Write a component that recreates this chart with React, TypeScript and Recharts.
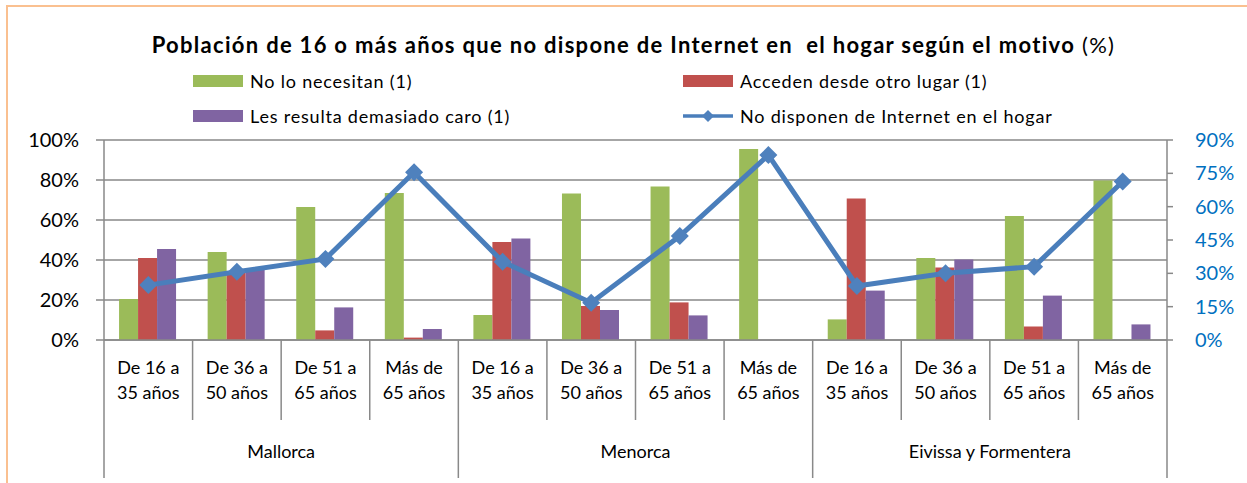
import React from 'react';
import { ComposedChart, Bar, Line, XAxis, YAxis, CartesianGrid } from 'recharts';

const regions = ['Mallorca', 'Menorca', 'Eivissa y Formentera'];
const ageLines = [
  ['De 16 a', '35 años'],
  ['De 36 a', '50 años'],
  ['De 51 a', '65 años'],
  ['Más de', '65 años'],
];

// % (eje izquierdo)
const noLoNecesitan = [20.5, 44, 66.5, 73.5, 12.5, 73.3, 76.7, 95.5, 10.3, 41, 62, 79.7];
const accedenOtroLugar = [41, 33.5, 4.8, 1.2, 49, 17, 18.8, 0, 70.8, 36.3, 6.7, 0];
const demasiadoCaro = [45.5, 35.5, 16.3, 5.5, 50.8, 15, 12.3, 0, 24.7, 40.3, 22.2, 7.8];
// % (eje derecho)
const noDisponen = [24.7, 30.7, 36.5, 75.5, 35.2, 16.8, 46.8, 83.2, 24.3, 30, 33, 71.3];

const leftTicks = [0, 20, 40, 60, 80, 100];
const rightTicks = [0, 15, 30, 45, 60, 75, 90];

const GREEN = '#9BBB59';
const RED = '#C0504D';
const PURPLE = '#8064A2';
const BLUE = '#4A7EBB';
const GRID = '#898989';
const FONT = 'Lato, "Liberation Sans", sans-serif';

const data = noLoNecesitan.map((v, i) => ({
  key: `${regions[Math.floor(i / 4)]}-${i % 4}`,
  region: regions[Math.floor(i / 4)],
  age: ageLines[i % 4],
  necesitan: v,
  otro: accedenOtroLugar[i],
  caro: demasiadoCaro[i],
  total: noDisponen[i],
}));

const Diamond = (props: any) => {
  const { cx, cy } = props;
  if (cx == null || cy == null) return null;
  const r = 9;
  return (
    <path
      d={`M${cx},${cy - r} L${cx + r},${cy} L${cx},${cy + r} L${cx - r},${cy} Z`}
      fill="#4F81BD"
    />
  );
};

const AgeTick = (props: any) => {
  const { x, y, payload, width, visibleTicksCount } = props;
  const i = payload.index ?? props.index;
  const half = width / visibleTicksCount / 2;
  const row = data[i];
  const last = i === data.length - 1;
  return (
    <g>
      <line x1={x - half} x2={x - half} y1={y} y2={i % 4 === 0 ? y + 138 : y + 80} stroke={GRID} strokeWidth={1.5} />
      {last && <line x1={x + half} x2={x + half} y1={y} y2={y + 138} stroke={GRID} strokeWidth={1.5} />}
      <text x={x} y={y + 34} textAnchor="middle" fontSize={18} fill="#000" fontFamily={FONT}>
        {row.age[0]}
      </text>
      <text x={x} y={y + 59} textAnchor="middle" fontSize={18} fill="#000" fontFamily={FONT}>
        {row.age[1]}
      </text>
      {i % 4 === 1 && (
        <text x={x + half} y={y + 118} textAnchor="middle" fontSize={18} fill="#000" fontFamily={FONT}>
          {row.region}
        </text>
      )}
    </g>
  );
};

const legendItems = [
  { label: 'No lo necesitan (1)', color: GREEN, type: 'bar', left: 193, top: 73 },
  { label: 'Acceden desde otro lugar (1)', color: RED, type: 'bar', left: 683, top: 73 },
  { label: 'Les resulta demasiado caro (1)', color: PURPLE, type: 'bar', left: 193, top: 108 },
  { label: 'No disponen de Internet en el hogar', color: BLUE, type: 'line', left: 683, top: 108 },
];

export default function App() {
  return (
    <div
      style={{
        position: 'absolute',
        left: 0,
        top: 0,
        width: 1247,
        height: 483,
        background: '#fff',
        fontFamily: FONT,
        overflow: 'hidden',
      }}
    >
      {/* borde */}
      <div style={{ position: 'absolute', left: 6, top: 5, width: 1241, height: 2, background: '#FAC090' }} />
      <div style={{ position: 'absolute', left: 6, top: 5, width: 2, height: 478, background: '#FAC090' }} />

      <div
        style={{
          position: 'absolute',
          top: 31,
          left: 20,
          width: 1227,
          textAlign: 'center',
          fontSize: 22,
          letterSpacing: 1.3,
          color: '#000',
          whiteSpace: 'pre',
        }}
      >
        <span style={{ fontWeight: 'bold' }}>
          {'Población de 16 o más años que no dispone de Internet en  el hogar según el motivo'}
        </span>
        <span>{' (%)'}</span>
      </div>

      {legendItems.map((it) => (
        <div
          key={it.label}
          style={{ position: 'absolute', left: it.left, top: it.top, height: 16, display: 'flex', alignItems: 'center' }}
        >
          {it.type === 'bar' ? (
            <div style={{ width: 50, height: 12, background: it.color }} />
          ) : (
            <svg width={50} height={14}>
              <line x1={0} x2={50} y1={7} y2={7} stroke={it.color} strokeWidth={3.5} />
              <path d="M25,1 L31,7 L25,13 L19,7 Z" fill="#4F81BD" />
            </svg>
          )}
          <span style={{ marginLeft: 7, fontSize: 18, letterSpacing: 0.8, color: '#000', whiteSpace: 'nowrap' }}>
            {it.label}
          </span>
        </div>
      ))}

      <div style={{ position: 'absolute', left: 0, top: 0 }}>
        <ComposedChart
          width={1247}
          height={483}
          data={data}
          margin={{ top: 140, right: 0, bottom: 0, left: 0 }}
          barCategoryGap="17%"
          barGap={0}
        >
          <CartesianGrid vertical={false} stroke={GRID} strokeWidth={1.5} yAxisId="left" />
          <XAxis
            dataKey="key"
            height={143}
            interval={0}
            tickLine={false}
            tickSize={0}
            tickMargin={0}
            axisLine={{ stroke: GRID, strokeWidth: 1.5 }}
            tick={<AgeTick />}
          />
          <YAxis
            yAxisId="left"
            width={104}
            domain={[0, 100]}
            ticks={leftTicks}
            tickFormatter={(v) => `${v}%`}
            tickSize={8}
            tickMargin={17}
            tick={{ fill: '#000', fontSize: 20, fontFamily: FONT }}
            axisLine={{ stroke: GRID, strokeWidth: 1.5 }}
            tickLine={{ stroke: GRID, strokeWidth: 1.5 }}
          />
          <YAxis
            yAxisId="right"
            orientation="right"
            width={80}
            domain={[0, 90]}
            ticks={rightTicks}
            tickFormatter={(v) => `${v}%`}
            tickSize={6}
            tickMargin={22}
            tick={{ fill: '#0070C0', fontSize: 20, fontFamily: FONT, textAnchor: 'start' }}
            axisLine={{ stroke: GRID, strokeWidth: 1.5 }}
            tickLine={{ stroke: GRID, strokeWidth: 1.5 }}
          />
          <Bar yAxisId="left" dataKey="necesitan" fill={GREEN} isAnimationActive={false} />
          <Bar yAxisId="left" dataKey="otro" fill={RED} isAnimationActive={false} />
          <Bar yAxisId="left" dataKey="caro" fill={PURPLE} isAnimationActive={false} />
          <Line
            yAxisId="right"
            dataKey="total"
            stroke={BLUE}
            strokeWidth={5}
            dot={<Diamond />}
            activeDot={false}
            isAnimationActive={false}
          />
        </ComposedChart>
      </div>
    </div>
  );
}
